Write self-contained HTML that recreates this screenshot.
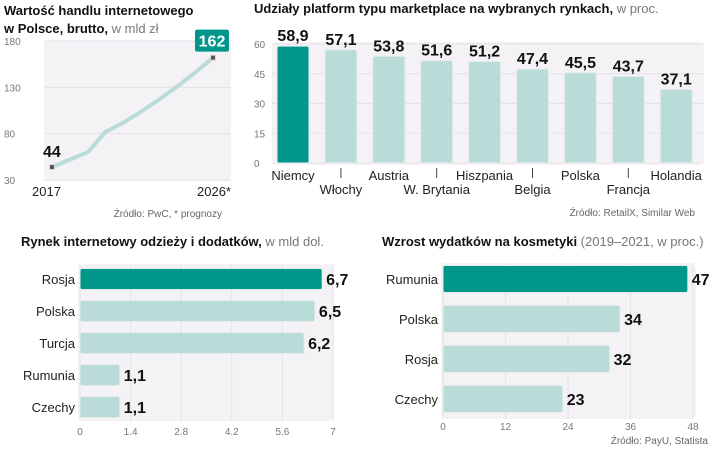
<!DOCTYPE html>
<html><head><meta charset="utf-8"><style>
body{margin:0;background:#fff;width:720px;height:449px;overflow:hidden}
svg{display:block;font-family:"Liberation Sans",sans-serif}
.t{font-weight:bold;font-size:13px;fill:#111}
.tl{font-size:13px;fill:#777}
.tick{font-size:10px;fill:#777}
.cat{font-size:13px;fill:#222}
.val{font-weight:bold;font-size:16px;fill:#111;font-family:"Liberation Sans Narrow","Liberation Sans",sans-serif}
.src{font-size:10px;fill:#666}
</style></head><body>
<svg id="s" width="720" height="449">
<g>
<text class="t" x="4" y="15">Wartość handlu internetowego</text>
<text class="t" x="4" y="33">w Polsce, brutto, <tspan class="tl" font-weight="normal">w mld zł</tspan></text></g>
<rect x="44" y="40" width="187" height="141" rx="6" fill="#f4f2f5"/>
<g id="c1"></g>
<text class="src" x="222" y="217" text-anchor="end">Źródło: PwC, * prognozy</text>

<text class="t" x="254" y="13">Udziały platform typu marketplace na wybranych rynkach, <tspan class="tl" font-weight="normal">w proc.</tspan></text>
<rect x="272" y="42" width="432" height="123" rx="6" fill="#f4f2f5"/>
<g id="c2"></g>
<text class="src" x="695" y="216" text-anchor="end">Źródło: RetailX, Similar Web</text>

<text class="t" x="21" y="246">Rynek internetowy odzieży i dodatków, <tspan class="tl" font-weight="normal">w mld dol.</tspan></text>
<rect x="78" y="264" width="256" height="157" rx="6" fill="#f4f2f5"/>
<g id="c3"></g>

<text class="t" x="382" y="246">Wzrost wydatków na kosmetyki <tspan class="tl" font-weight="normal">(2019–2021, w proc.)</tspan></text>
<rect x="441" y="263" width="255" height="156" rx="6" fill="#f4f2f5"/>
<g id="c4"></g>
<text class="src" x="708" y="444" text-anchor="end">Źródło: PayU, Statista</text>
</svg>
<script>
const NS="http://www.w3.org/2000/svg";
function mk(p,tag,a,txt){const e=document.createElementNS(NS,tag);for(const k in a)e.setAttribute(k,a[k]);if(txt!=null)e.textContent=txt;p.appendChild(e);return e;}
// Chart 1 data
const years=[2017,2018,2019,2020,2021,2022,2023,2024,2025,2026];
const onlineValue=[44,52,60,82,92,104,117,131,146,162];
const c1Ticks=[30,80,130,180];
// Chart 2 data
const countries2=["Niemcy","Włochy","Austria","W. Brytania","Hiszpania","Belgia","Polska","Francja","Holandia"];
const share2=[58.9,57.1,53.8,51.6,51.2,47.4,45.5,43.7,37.1];
const c2Ticks=[0,15,30,45,60];
// Chart 3 data
const countries3=["Rosja","Polska","Turcja","Rumunia","Czechy"];
const clothing3=[6.7,6.5,6.2,1.1,1.1];
const c3Ticks=["0","1.4","2.8","4.2","5.6","7"];
// Chart 4 data
const countries4=["Rumunia","Polska","Rosja","Czechy"];
const cosm4=[47,34,32,23];
const c4Ticks=[0,12,24,36,48];
const fmt=v=>String(v).replace('.',',');
const DARK="#00968a",LIGHT="#b9dcd9";

// Chart 1
(function(){const g=document.getElementById('c1');
const x=yr=>52+(yr-2017)*(213-52)/9, y=v=>180-(v-30)*139/150;
c1Ticks.forEach(t=>{const l=mk(g,'line',{x1:44,x2:231,y1:y(t),y2:y(t),stroke:'#e4e2e6'});

const tx=mk(g,'text',{x:4,y:y(t)+4,class:'tick'},t);});
const pl=mk(g,'polyline',{points:years.map((yr,i)=>x(yr)+','+y(onlineValue[i])).join(' '),fill:'none',stroke:'#b9dcd9','stroke-width':4,'stroke-linejoin':'round'});

[0,years.length-1].forEach(i=>{const r=mk(g,'rect',{x:x(years[i])-2.5,y:y(onlineValue[i])-2.5,width:5,height:5,fill:'#555',stroke:'#ddd'});
});
const a=mk(g,'text',{x:x(years[0])-9,y:y(onlineValue[0])-10,class:'val'},onlineValue[0]);
const li=onlineValue.length-1;
const b=mk(g,'rect',{x:x(years[li])-18,y:y(onlineValue[li])-28,width:34,height:22,rx:2,fill:DARK});
const bt=mk(g,'text',{x:x(years[li])-1,y:y(onlineValue[li])-11,class:'val','text-anchor':'middle',fill:'#fff',style:'fill:#fff'},onlineValue[li]);
const l1=mk(g,'text',{x:32,y:196,class:'cat'},years[0]);
const l2=mk(g,'text',{x:231,y:196,class:'cat','text-anchor':'end'},years[li]+'*');
})();

// Chart 2
(function(){const g=document.getElementById('c2');
const y=v=>163-v*119/60, cx=i=>293+i*47.9, bw=32;
c2Ticks.forEach(t=>{const l=mk(g,'line',{x1:272,x2:704,y1:y(t),y2:y(t),stroke:'#e4e2e6'});
const tx=mk(g,'text',{x:254,y:y(t)+4,class:'tick'},t);});
share2.forEach((v,i)=>{const r=mk(g,'rect',{x:cx(i)-bw/2,y:y(v),width:bw,height:y(0)-y(v),rx:2,fill:i==0?DARK:LIGHT,stroke:'#e6eceb','stroke-width':1});

const vt=mk(g,'text',{x:cx(i),y:y(v)-5,class:'val','text-anchor':'middle'},fmt(v));
const low=i%2==1;
if(low){const tk=mk(g,'line',{x1:cx(i),x2:cx(i),y1:168,y2:178,stroke:'#444'});}
const ct=mk(g,'text',{x:cx(i),y:low?194:180,class:'cat','text-anchor':'middle'},countries2[i]);});
})();

// Horizontal bar helper
function hbar(id,cats,vals,ticks,x0,x1,max,y0,step,bh,tickY,prefix,plotTop,plotBot){
const g=document.getElementById(id);const x=v=>x0+v*(x1-x0)/max;
ticks.forEach(t=>{const tv=parseFloat(t);const l=mk(g,'line',{x1:x(tv),x2:x(tv),y1:plotTop,y2:plotBot,stroke:'#e4e2e6'});
const tx=mk(g,'text',{x:x(tv),y:tickY,class:'tick','text-anchor':'middle'},t);});
vals.forEach((v,i)=>{const cy=y0+i*step;
const r=mk(g,'rect',{x:x0,y:cy-bh/2,width:x(v)-x0,height:bh,rx:2,fill:i==0?DARK:LIGHT,stroke:'#e6eceb'});

const ct=mk(g,'text',{x:x0-5,y:cy+5,class:'cat','text-anchor':'end'},cats[i]);
const vt=mk(g,'text',{x:x(v)+4,y:cy+6,class:'val'},fmt(v));});}
hbar('c3',countries3,clothing3,c3Ticks,80,333,7,279,32,21,435,'clothing',264,421);
hbar('c4',countries4,cosm4,c4Ticks,443,693,48,279,40,27,430,'cosmetics',263,419);
</script>
</body></html>
